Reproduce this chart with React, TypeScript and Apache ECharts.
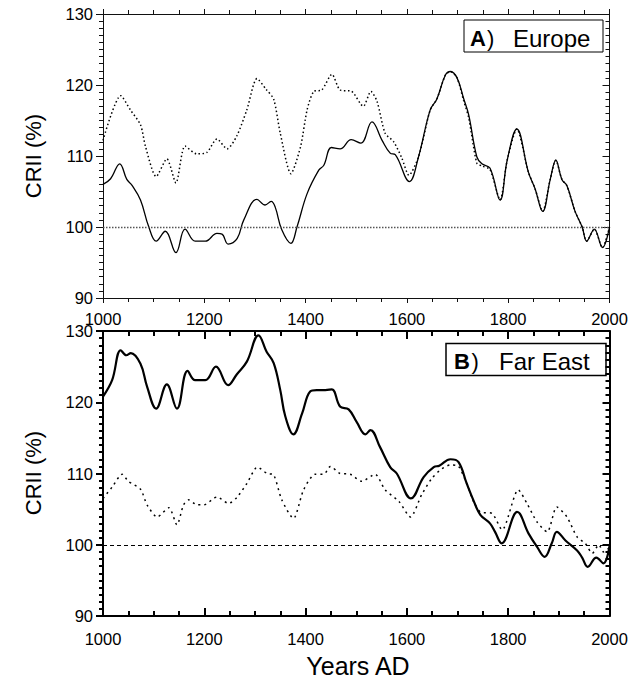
import React, { useEffect, useRef } from 'react';
import * as echarts from 'echarts';

const X_MIN = 1000;
const X_MAX = 2000;
const X_STEP = 200;
const Y_MIN = 90;
const Y_MAX = 130;
const Y_STEP = 10;
const REF_LEVEL = 100;

// Panel A (Europe) — solid curve
const euSolidYears = [1000, 1015, 1033, 1047, 1057, 1074, 1090, 1105, 1123, 1144, 1162, 1182, 1202, 1225, 1235, 1247, 1265, 1278, 1304, 1320, 1332, 1340, 1353, 1371, 1383, 1403, 1426, 1436, 1451, 1468, 1490, 1509, 1531, 1551, 1567, 1577, 1605, 1623, 1646, 1659, 1676, 1686, 1699, 1712, 1722, 1738, 1748, 1764, 1784, 1798, 1817, 1840, 1853, 1868, 1883, 1894, 1906, 1916, 1932, 1946, 1955, 1970, 1986, 2000];
const euSolidValues = [106.0, 106.8, 108.9, 106.7, 105.9, 103.8, 100.1, 98.0, 99.4, 96.4, 99.7, 98.0, 98.0, 99.1, 99.0, 97.6, 98.4, 101.0, 103.9, 103.1, 103.6, 102.8, 99.6, 97.7, 100.0, 104.7, 108.0, 108.7, 111.2, 111.0, 112.3, 111.8, 114.8, 112.2, 110.4, 110.2, 106.4, 109.9, 116.5, 118.0, 121.4, 121.9, 121.0, 118.1, 115.8, 109.9, 108.9, 108.3, 103.8, 109.4, 113.8, 107.7, 105.4, 102.2, 106.7, 109.4, 106.7, 105.8, 102.2, 100.0, 98.0, 99.7, 97.1, 100.0];

// Panel A (Europe) — dotted curve
const euDotYears = [1000, 1035, 1054, 1074, 1084, 1105, 1126, 1144, 1162, 1185, 1205, 1225, 1245, 1264, 1284, 1304, 1322, 1337, 1350, 1371, 1390, 1403, 1416, 1432, 1452, 1468, 1491, 1514, 1529, 1541, 1557, 1574, 1590, 1604, 1623, 1646, 1659, 1676, 1686, 1699, 1712, 1722, 1738, 1748, 1764, 1784, 1798, 1817, 1840, 1853, 1868, 1883, 1894, 1906, 1916, 1932, 1946, 1955, 1970, 1986, 2000];
const euDotValues = [112.2, 118.5, 116.5, 114.4, 111.3, 107.1, 109.6, 106.2, 111.4, 110.3, 110.5, 112.4, 111.0, 112.8, 116.5, 120.9, 119.4, 118.0, 113.2, 107.5, 111.3, 116.5, 119.1, 119.3, 121.5, 119.3, 119.1, 117.0, 119.1, 117.7, 113.2, 112.0, 109.7, 107.3, 109.9, 116.5, 118.0, 121.4, 121.9, 121.0, 117.8, 115.4, 109.0, 108.6, 108.1, 103.8, 109.4, 113.8, 107.7, 105.4, 102.2, 106.7, 109.4, 106.7, 105.8, 102.2, 100.0, 98.0, 99.7, 97.1, 100.0];

// Panel B (Far East) — solid curve
const feSolidYears = [1000, 1018, 1035, 1046, 1055, 1074, 1087, 1105, 1126, 1146, 1167, 1182, 1202, 1223, 1247, 1264, 1284, 1307, 1323, 1337, 1350, 1360, 1376, 1393, 1409, 1422, 1439, 1452, 1468, 1485, 1501, 1518, 1528, 1547, 1567, 1580, 1608, 1633, 1653, 1664, 1686, 1702, 1718, 1731, 1745, 1764, 1774, 1787, 1818, 1840, 1857, 1872, 1886, 1896, 1913, 1936, 1946, 1957, 1974, 1988, 2000];
const feSolidValues = [120.8, 123.1, 127.3, 126.6, 126.9, 125.4, 122.2, 119.1, 122.5, 119.1, 124.4, 123.1, 123.1, 125.0, 122.4, 123.9, 125.7, 129.4, 127.1, 125.5, 121.7, 118.0, 115.5, 118.4, 121.5, 121.7, 121.7, 121.8, 119.4, 119.0, 117.2, 115.5, 116.1, 113.7, 110.9, 110.0, 106.5, 109.5, 110.9, 111.1, 112.0, 111.6, 108.6, 106.3, 104.2, 103.0, 101.8, 100.2, 104.6, 101.6, 99.7, 98.3, 100.2, 101.8, 100.6, 99.2, 98.2, 96.9, 98.2, 97.4, 99.8];

// Panel B (Far East) — dotted curve
const feDotYears = [1000, 1018, 1038, 1050, 1074, 1087, 1107, 1130, 1146, 1159, 1169, 1186, 1199, 1225, 1248, 1265, 1284, 1305, 1324, 1337, 1353, 1376, 1396, 1419, 1436, 1449, 1468, 1488, 1511, 1537, 1557, 1584, 1607, 1629, 1648, 1666, 1686, 1702, 1718, 1732, 1745, 1768, 1788, 1820, 1837, 1857, 1877, 1896, 1916, 1936, 1952, 1966, 1979, 1988, 2000];
const feDotValues = [106.5, 108.1, 109.9, 108.9, 107.8, 105.6, 103.9, 105.2, 102.8, 105.6, 106.3, 105.6, 105.6, 106.7, 105.8, 106.7, 108.6, 110.9, 110.0, 109.8, 106.3, 103.7, 107.7, 109.9, 109.9, 111.0, 110.0, 109.9, 108.9, 109.9, 107.7, 106.1, 103.9, 107.0, 109.2, 110.5, 111.2, 111.0, 108.6, 106.0, 104.6, 104.4, 102.1, 107.7, 105.8, 103.2, 101.8, 105.3, 103.9, 101.1, 100.2, 98.8, 100.0, 99.0, 99.6];

const Y_TITLE = 'CRII (%)';
const X_TITLE = 'Years AD';

const FONT = "'Liberation Sans', Arial, Helvetica, sans-serif";

const zip = (xs: number[], ys: number[]) => xs.map((x, i) => [x, ys[i]]);

function mkX(grid: number, pos: 'top' | 'bottom', labels: boolean, inside: boolean, lw: number, color: string, margin: number) {
  return {
    type: 'value',
    gridIndex: grid,
    position: pos,
    min: X_MIN,
    max: X_MAX,
    interval: X_STEP,
    axisLine: { show: true, onZero: false, lineStyle: { color, width: lw } },
    axisTick: { show: true, inside, length: inside ? 8 : 5, lineStyle: { color, width: lw } },
    minorTick: { show: true, splitNumber: 4, length: inside ? 5 : 4, lineStyle: { color, width: lw } },
    axisLabel: {
      show: labels, margin, fontSize: 16.5, color: '#000', fontFamily: FONT,
      formatter: (v: number) => String(v),
    },
    splitLine: { show: false },
    minorSplitLine: { show: false },
  };
}

function mkY(grid: number, pos: 'left' | 'right', labels: boolean, inside: boolean, lw: number, color: string) {
  return {
    type: 'value',
    gridIndex: grid,
    position: pos,
    min: Y_MIN,
    max: Y_MAX,
    interval: Y_STEP,
    axisLine: { show: true, onZero: false, lineStyle: { color, width: lw } },
    axisTick: { show: true, inside, length: 7, lineStyle: { color, width: lw } },
    minorTick: { show: true, splitNumber: 10, length: 4, lineStyle: { color, width: lw } },
    axisLabel: { show: labels, margin: 10, fontSize: 16.5, color: '#000', fontFamily: FONT },
    splitLine: { show: false },
    minorSplitLine: { show: false },
  };
}

function legendBox(x: number, y: number, w: number, h: number, letter: string, name: string, lx: number, px: number, nx: number, lw: number) {
  const cy = y + h / 2 + 2;
  return {
    type: 'group',
    z: 100,
    children: [
      { type: 'rect', shape: { x, y, width: w, height: h }, style: { fill: '#fff', stroke: '#000', lineWidth: lw } },
      { type: 'text', x: lx, y: cy, style: { text: letter, fontSize: 22, fontWeight: 'bold', fontFamily: FONT, fill: '#000', align: 'left', verticalAlign: 'middle' } },
      { type: 'text', x: px, y: cy, style: { text: ')', fontSize: 22, fontFamily: FONT, fill: '#000', align: 'left', verticalAlign: 'middle' } },
      { type: 'text', x: nx, y: cy, style: { text: name, fontSize: 24, fontFamily: FONT, fill: '#000', align: 'left', verticalAlign: 'middle' } },
    ],
  };
}

export default function App() {
  const ref = useRef<HTMLDivElement>(null);

  useEffect(() => {
    if (!ref.current) return;
    const chart = echarts.init(ref.current, undefined, { renderer: 'svg' });
    const topAxis = '#111';
    const option: any = {
      animation: false,
      backgroundColor: '#fff',
      grid: [
        { left: 103, top: 14, width: 506.5, height: 284 },
        { left: 103, top: 331, width: 506.5, height: 285 },
      ],
      xAxis: [
        mkX(0, 'bottom', true, false, 1, topAxis, 12),
        mkX(0, 'top', false, false, 1, topAxis, 8),
        mkX(1, 'bottom', true, true, 2, '#000', 14),
        mkX(1, 'top', false, true, 2, '#000', 8),
      ],
      yAxis: [
        mkY(0, 'left', true, false, 1, topAxis),
        mkY(0, 'right', false, true, 1, topAxis),
        mkY(1, 'left', true, false, 2, '#000'),
        mkY(1, 'right', false, true, 2, '#000'),
      ],
      series: [
        {
          type: 'line', xAxisIndex: 0, yAxisIndex: 0, showSymbol: false, smooth: 0.25,
          data: zip(euDotYears, euDotValues),
          lineStyle: { color: '#000', width: 1.5, type: [1.5, 2.5] },
          markLine: {
            silent: true, symbol: 'none', label: { show: false },
            lineStyle: { color: '#555', width: 1.3, type: [1.5, 1.5] },
            data: [{ yAxis: REF_LEVEL }],
          },
        },
        {
          type: 'line', xAxisIndex: 0, yAxisIndex: 0, showSymbol: false, smooth: 0.4,
          data: zip(euSolidYears, euSolidValues),
          lineStyle: { color: '#000', width: 1.3 },
        },
        {
          type: 'line', xAxisIndex: 2, yAxisIndex: 2, showSymbol: false, smooth: 0.25,
          data: zip(feDotYears, feDotValues),
          lineStyle: { color: '#000', width: 1.5, type: [2, 4] },
          markLine: {
            silent: true, symbol: 'none', label: { show: false },
            lineStyle: { color: '#000', width: 1, type: [4, 3] },
            data: [{ yAxis: REF_LEVEL }],
          },
        },
        {
          type: 'line', xAxisIndex: 2, yAxisIndex: 2, showSymbol: false, smooth: 0.4,
          data: zip(feSolidYears, feSolidValues),
          lineStyle: { color: '#000', width: 2.2 },
        },
      ],
      graphic: [
        { type: 'text', x: 33, y: 156, rotation: Math.PI / 2, style: { text: Y_TITLE, fontSize: 22, fontFamily: FONT, fill: '#000', align: 'center', verticalAlign: 'middle' } },
        { type: 'text', x: 33, y: 473, rotation: Math.PI / 2, style: { text: Y_TITLE, fontSize: 22, fontFamily: FONT, fill: '#000', align: 'center', verticalAlign: 'middle' } },
        { type: 'text', x: 358, y: 666, style: { text: X_TITLE, fontSize: 25, fontFamily: FONT, fill: '#000', align: 'center', verticalAlign: 'middle' } },
        legendBox(464, 20, 139, 32, 'A', 'Europe', 470, 487, 513, 1),
        legendBox(446, 343.5, 160, 32, 'B', 'Far East', 454, 471.5, 499, 1.5),
      ],
    };
    chart.setOption(option);
    return () => chart.dispose();
  }, []);

  return (
    <div
      ref={ref}
      style={{ position: 'fixed', left: 0, top: 0, width: 640, height: 679, background: '#fff' }}
    />
  );
}
